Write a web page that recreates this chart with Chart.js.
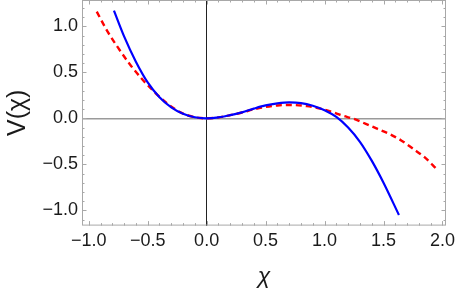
<!DOCTYPE html>
<html>
<head>
<meta charset="utf-8">
<script src="https://cdn.jsdelivr.net/npm/chart.js@4"></script>
<style>
  body { margin: 0; background: #fff; }
  #wrap { width: 455px; height: 291px; }
</style>
</head>
<body>
<div id="wrap"><canvas id="chart" width="455" height="291"></canvas></div>
<script>
// values
const blueX = [-0.786, -0.7, -0.6, -0.5, -0.4, -0.3, -0.2, -0.1, 0, 0.1, 0.2, 0.3, 0.4, 0.5, 0.6, 0.7, 0.8, 0.9, 1.0, 1.1, 1.2, 1.3, 1.4, 1.5, 1.631];
const blueY = [1.17, 0.89, 0.615, 0.39, 0.23, 0.12, 0.05, 0.012, 0, 0.01, 0.035, 0.065, 0.105, 0.14, 0.162, 0.173, 0.166, 0.137, 0.088, 0.015, -0.1, -0.255, -0.46, -0.70, -1.051];
const redX = [-0.932, -0.85, -0.75, -0.65, -0.55, -0.45, -0.35, -0.25, -0.15, -0.05, 0, 0.1, 0.2, 0.3, 0.4, 0.5, 0.6, 0.72, 0.85, 0.95, 1.05, 1.15, 1.25, 1.35, 1.45, 1.55, 1.65, 1.75, 1.85, 1.951];
const redY = [1.159, 0.965, 0.765, 0.585, 0.43, 0.295, 0.178, 0.085, 0.028, 0.003, 0, 0.01, 0.034, 0.063, 0.098, 0.124, 0.14, 0.145, 0.133, 0.109, 0.075, 0.03, -0.007, -0.06, -0.115, -0.17, -0.24, -0.33, -0.425, -0.551];
const xTicks = [-1.0, -0.5, 0.0, 0.5, 1.0, 1.5, 2.0];
const yTicks = [-1.0, -0.5, 0.0, 0.5, 1.0];
const xMin = -1.057, xMax = 2.03;
const yMin = -1.166, yMax = 1.286;

const ctx = document.getElementById("chart").getContext("2d");
const tickFont = { family: "Liberation Sans", size: 18 };
const fmt = (v) => v.toFixed(1).replace("-", "\u2212");

// mathematica style frame with inward ticks
const frameTicks = {
  id: "frameTicks",
  afterDatasetsDraw(chart) {
    const { ctx, chartArea: a, scales } = chart;
    const xs = scales.x, ys = scales.y;
    ctx.save();
    ctx.strokeStyle = "#a8a8a8";
    ctx.lineWidth = 1;
    ctx.strokeRect(a.left + 0.5, a.top + 0.5, a.right - a.left - 1, a.bottom - a.top - 1);
    ctx.beginPath();
    for (let i = -10; i <= 20; i++) {
      const v = i / 10;
      if (v < xs.min || v > xs.max) continue;
      const len = i % 5 === 0 ? 4.5 : 2.5;
      const px = Math.round(xs.getPixelForValue(v)) + 0.5;
      ctx.moveTo(px, a.bottom); ctx.lineTo(px, a.bottom - len);
      ctx.moveTo(px, a.top); ctx.lineTo(px, a.top + len);
    }
    for (let i = -11; i <= 12; i++) {
      const v = i / 10;
      if (v < ys.min || v > ys.max) continue;
      const len = i % 5 === 0 ? 4.5 : 2.5;
      const py = Math.round(ys.getPixelForValue(v)) + 0.5;
      ctx.moveTo(a.left, py); ctx.lineTo(a.left + len, py);
      ctx.moveTo(a.right, py); ctx.lineTo(a.right - len, py);
    }
    ctx.stroke();
    ctx.restore();
  },
};

const chart = new Chart(ctx, {
  type: "scatter",
  data: {
    datasets: [
      {
        label: "blue",
        data: blueX.map((x, i) => ({ x: x, y: blueY[i] })),
        showLine: true,
        borderColor: "#0000ff",
        borderWidth: 2.2,
        pointRadius: 0,
        cubicInterpolationMode: "monotone",
      },
      {
        label: "red",
        data: redX.map((x, i) => ({ x: x, y: redY[i] })),
        showLine: true,
        borderColor: "#ff0000",
        borderWidth: 2.4,
        borderDash: [6, 4],
        pointRadius: 0,
        cubicInterpolationMode: "monotone",
      },
    ],
  },
  options: {
    responsive: false,
    animation: false,
    layout: { padding: { left: 0, right: 9, top: 0, bottom: 0 } },
    plugins: { legend: { display: false }, tooltip: { enabled: false } },
    scales: {
      x: {
        type: "linear",
        min: xMin,
        max: xMax,
        afterBuildTicks: (s) => { s.ticks = xTicks.map((v) => ({ value: v })); },
        afterFit: (s) => { s.height = 65.4; s.paddingLeft = 0; s.paddingRight = 0; },
        border: { display: false },
        grid: {
          drawTicks: false,
          color: (c) => (c.tick && c.tick.value === 0 ? "#222222" : "rgba(0,0,0,0)"),
          lineWidth: 1,
        },
        ticks: { padding: 5, font: tickFont, color: "#1a1a1a", autoSkip: false, maxRotation: 0, callback: (v) => fmt(v) },
        title: {
          display: true,
          text: "\u03c7",
          font: { family: "Liberation Sans", size: 23, style: "italic" },
          color: "#1a1a1a",
          padding: { top: 0, bottom: 1 },
        },
      },
      y: {
        type: "linear",
        min: yMin,
        max: yMax,
        afterBuildTicks: (s) => { s.ticks = yTicks.map((v) => ({ value: v })); },
        afterFit: (s) => { s.width = 82; s.paddingTop = 0; s.paddingBottom = 0; },
        border: { display: false },
        grid: {
          drawTicks: false,
          color: (c) => (c.tick && c.tick.value === 0 ? "#9a9a9a" : "rgba(0,0,0,0)"),
          lineWidth: 1.4,
        },
        ticks: { padding: 4, font: tickFont, color: "#1a1a1a", autoSkip: false, callback: (v) => fmt(v) },
        title: {
          display: true,
          text: "V(\u03c7)",
          font: { family: "Liberation Sans", size: 25 },
          color: "#1a1a1a",
          padding: { top: 3, bottom: 0 },
        },
      },
    },
  },
  plugins: [frameTicks],
});
</script>
</body>
</html>
